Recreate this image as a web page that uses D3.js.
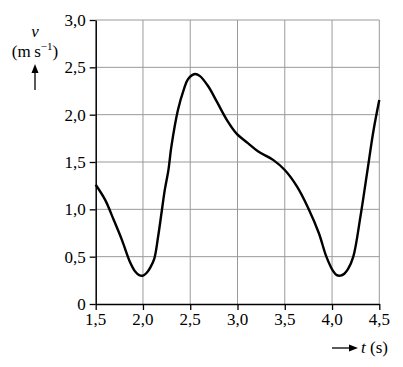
<!DOCTYPE html>
<html><head><meta charset="utf-8">
<script src="https://cdn.jsdelivr.net/npm/d3@7"></script>
</head>
<body style="margin:0">
<svg id="c" width="403" height="367"></svg>
<script>
const tValues = [1.5,1.6,1.69,1.78,1.86,1.92,1.96,2.0,2.04,2.08,2.12,2.16,2.2,2.23,2.27,2.3,2.37,2.43,2.48,2.55,2.6,2.69,2.78,2.89,2.99,3.11,3.22,3.38,3.5,3.63,3.75,3.86,3.94,4.01,4.05,4.09,4.13,4.17,4.225,4.3,4.37,4.44,4.5];
const vValues = [1.26,1.10,0.89,0.67,0.45,0.34,0.305,0.30,0.33,0.39,0.48,0.71,0.99,1.20,1.42,1.66,2.05,2.26,2.38,2.43,2.41,2.30,2.14,1.94,1.80,1.70,1.61,1.52,1.415,1.24,1.01,0.75,0.50,0.35,0.305,0.30,0.32,0.37,0.50,0.92,1.38,1.84,2.155];
const xTicks = [1.5,2.0,2.5,3.0,3.5,4.0,4.5];
const yTicks = [0,0.5,1.0,1.5,2.0,2.5,3.0];
const xTickLabels = ["1,5","2,0","2,5","3,0","3,5","4,0","4,5"];
const yTickLabels = ["0","0,5","1,0","1,5","2,0","2,5","3,0"];

const FONT = '"Liberation Serif"';
const svg = d3.select("#c");
const x = d3.scaleLinear().domain([1.5,4.5]).range([95.7,379.3]);
const y = d3.scaleLinear().domain([0,3]).range([304,20]);

// ---- all texts first ----
xTicks.forEach((d,i)=>{
  svg.append("text").attr("x",x(d)).attr("y",y(0)+21).attr("text-anchor","middle")
    .style("font-family",FONT).style("font-size","17px").text(xTickLabels[i]);
});
yTicks.forEach((d,i)=>{
  svg.append("text").attr("x",x(1.5)-10).attr("y",y(d)+6).attr("text-anchor","end")
    .style("font-family",FONT).style("font-size","17px").text(yTickLabels[i]);
});
svg.append("text").attr("x",35).attr("y",37).attr("text-anchor","middle")
  .style("font-family",FONT).style("font-style","italic").style("font-size","17px").text("v");
const yl = svg.append("text").attr("x",35).attr("y",57).attr("text-anchor","middle")
  .style("font-family",FONT).style("font-size","17px");
yl.append("tspan").text("(m\u2009s");
yl.append("tspan").style("font-size","11px").attr("dy",-7).text("\u22121");
yl.append("tspan").attr("dy",7).text(")");
const xl = svg.append("text").attr("x",361).attr("y",353).style("font-family",FONT).style("font-size","17px");
xl.append("tspan").style("font-style","italic").text("t");
xl.append("tspan").text(" (s)");

// ---- grid ----
const g = svg.append("g");
g.selectAll("line.vx").data(xTicks.slice(1)).enter().append("line")
  .attr("x1",d=>x(d)).attr("x2",d=>x(d)).attr("y1",y(0)).attr("y2",y(3))
  .attr("stroke","#9a9a9a").attr("stroke-width",1);
g.selectAll("line.hy").data(yTicks.slice(1)).enter().append("line")
  .attr("x1",x(1.5)).attr("x2",x(4.5)).attr("y1",d=>y(d)).attr("y2",d=>y(d))
  .attr("stroke","#9a9a9a").attr("stroke-width",1);

// ---- axes (lines and ticks only) ----
const xAxis = d3.axisBottom(x).tickValues(xTicks).tickFormat("").tickSize(6).tickSizeOuter(0);
const yAxis = d3.axisLeft(y).tickValues(yTicks).tickFormat("").tickSize(6).tickSizeOuter(0);
const gx = svg.append("g").attr("transform",`translate(0,${y(0)})`).call(xAxis);
const gy = svg.append("g").attr("transform",`translate(${x(1.5)},0)`).call(yAxis);
[gx,gy].forEach(a=>{
  a.attr("font-family",null).attr("font-size",null);
  a.selectAll("text").remove();
  a.selectAll("path.domain").attr("stroke","#000").attr("stroke-width",1.5);
  a.selectAll(".tick line").attr("stroke","#000").attr("stroke-width",1.3);
});

// ---- curve ----
const line = d3.line().x((d,i)=>x(tValues[i])).y((d,i)=>y(vValues[i])).curve(d3.curveCatmullRom.alpha(0.5));
svg.append("path").datum(vValues).attr("d",line).attr("fill","none")
  .attr("stroke","#000").attr("stroke-width",2.4).attr("stroke-linejoin","round");

// ---- arrows ----
svg.append("line").attr("x1",35).attr("x2",35).attr("y1",90).attr("y2",70).attr("stroke","#000").attr("stroke-width",1.3);
svg.append("path").attr("d","M35,64 L31.5,73 L38.5,73 Z").attr("fill","#000");
svg.append("line").attr("x1",332).attr("x2",351).attr("y1",348).attr("y2",348).attr("stroke","#000").attr("stroke-width",1.3);
svg.append("path").attr("d","M358,348 L349,344.5 L349,351.5 Z").attr("fill","#000");
</script>
</body></html>
